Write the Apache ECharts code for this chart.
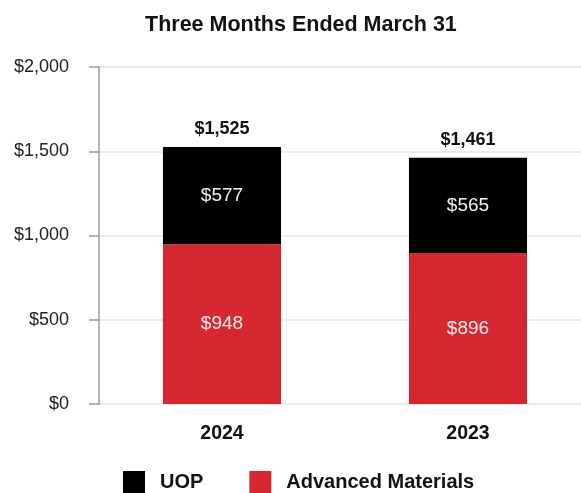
<!DOCTYPE html>
<html>
<head>
<meta charset="utf-8">
<script src="https://cdn.jsdelivr.net/npm/echarts@6/dist/echarts.min.js"></script>
<style>html,body{margin:0;padding:0;background:#fff;}#c{width:581px;height:493px;}</style>
</head>
<body>
<div id="c"></div>
<script>
const categories = ['2024', '2023'];
const advancedMaterials = [948, 896];
const uop = [577, 565];
const totals = [1525, 1461];
const yTicks = [0, 500, 1000, 1500, 2000];

const FONT = '"Liberation Sans", Arial, sans-serif';
const fmt = v => '$' + Number(v).toLocaleString('en-US');

const chart = echarts.init(document.getElementById('c'), null, {renderer: 'canvas'});
chart.setOption({
  animation: false,
  backgroundColor: '#fff',
  title: {
    text: 'Three Months Ended March 31',
    left: 140, top: 9,
    textStyle: {fontFamily: FONT, fontSize: 21.5, fontWeight: 'bold', color: '#111'}
  },
  grid: {left: 99, width: 492, top: 67, bottom: 89, containLabel: false, outerBoundsMode: 'none'},
  xAxis: {
    type: 'category', data: categories,
    axisLine: {show: false}, axisTick: {show: false},
    axisLabel: {fontFamily: FONT, fontSize: 19.5, fontWeight: 'bold', color: '#111', margin: 20}
  },
  yAxis: {
    type: 'value', min: yTicks[0], max: yTicks[yTicks.length - 1], interval: 500,
    axisLine: {show: true, lineStyle: {color: '#9a9a9a', width: 1.5}},
    axisTick: {show: true, length: 10, lineStyle: {color: '#9a9a9a', width: 1.5}},
    splitLine: {lineStyle: {color: '#e4e4e4', width: 1.5}},
    axisLabel: {fontFamily: FONT, fontSize: 18, color: '#222', margin: 30, formatter: fmt}
  },
  legend: {
    data: ['UOP', 'Advanced Materials'],
    top: 466, left: 118,
    itemWidth: 22, itemHeight: 22, itemGap: 46,
    icon: 'rect',
    textStyle: {fontFamily: FONT, fontSize: 20, fontWeight: 'bold', color: '#111', padding: [0, 0, 0, 10]}
  },
  series: [
    {
      name: 'Advanced Materials', type: 'bar', stack: 's', data: advancedMaterials,
      barWidth: '48%', itemStyle: {color: '#d52830'},
      label: {show: true, position: 'inside', fontFamily: FONT, fontSize: 19, color: '#f0f0f0', formatter: p => fmt(p.value)}
    },
    {
      name: 'UOP', type: 'bar', stack: 's', data: uop,
      barWidth: '48%', itemStyle: {color: '#000'},
      label: {show: true, position: 'inside', fontFamily: FONT, fontSize: 19, color: '#f0f0f0', formatter: p => fmt(p.value)}
    },
    {
      name: 'Total', type: 'bar', stack: 's', data: totals.map(() => 0),
      barWidth: '48%', itemStyle: {color: 'transparent'},
      label: {show: true, position: 'top', distance: 9, fontFamily: FONT, fontSize: 18, fontWeight: 'bold', color: '#111',
        formatter: p => fmt(totals[p.dataIndex])}
    }
  ]
});
</script>
</body>
</html>
